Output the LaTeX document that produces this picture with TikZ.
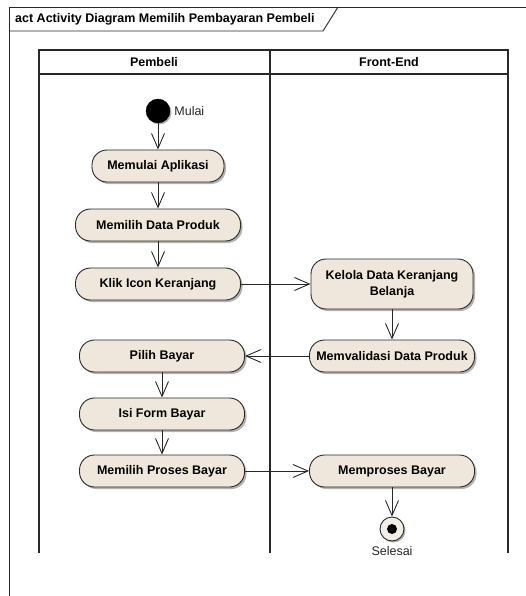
\documentclass[tikz,border=0pt]{standalone}
\usepackage{fontspec}
\setmainfont{Liberation Sans}
\usepackage{tikz}
\usetikzlibrary{positioning, arrows.meta, shadows}

\definecolor{ActFill}{RGB}{239,231,219}
\definecolor{EndFill}{RGB}{242,238,228}
\definecolor{LineGray}{RGB}{40,40,40}

\begin{document}
\begin{tikzpicture}[x=1pt,y=-1pt]
  \tikzset{ActionStyle/.style = {
    shape          = rectangle,
    rounded corners = 15pt,
    draw           = LineGray,
    fill           = ActFill,
    line width     = 0.9pt,
    text           = black,
    font           = \fontsize{12.5}{16}\selectfont\bfseries,
    align          = center,
    inner sep      = 2pt,
    minimum width  = 165pt,
    minimum height = 32pt,
    drop shadow    = {shadow xshift=2pt, shadow yshift=-2pt, opacity=0.3, fill=black}
    }
  }
  \tikzset{StartStyle/.style = {
    shape         = circle,
    fill          = black,
    draw          = black,
    minimum size  = 24pt,
    inner sep     = 0pt,
    drop shadow   = {shadow xshift=1.5pt, shadow yshift=-1.5pt, opacity=0.3, fill=black}
    }
  }
  \tikzset{EndStyle/.style = {
    shape         = circle,
    fill          = EndFill,
    draw          = LineGray,
    line width    = 0.9pt,
    minimum size  = 24pt,
    inner sep     = 0pt,
    path picture  = {\fill[black] (path picture bounding box.center) circle (5pt);},
    drop shadow   = {shadow xshift=1.5pt, shadow yshift=-1.5pt, opacity=0.3, fill=black}
    }
  }
  \tikzset{EdgeStyle/.style = {
    draw          = LineGray,
    line width    = 0.9pt,
    -{Straight Barb[length=15pt, width=13pt, line width=0.9pt]}
    }
  }
  \tikzset{LaneStyle/.style = {
    draw          = LineGray,
    line width    = 1.2pt
    }
  }
  \tikzset{FrameStyle/.style = {
    draw          = LineGray,
    line width    = 0.9pt
    }
  }
  \tikzset{LabelStyle/.style = {
    text          = black!85,
    font          = \fontsize{12.5}{15}\selectfont,
    inner sep     = 1pt
    }
  }
  \tikzset{HeadStyle/.style = {
    text          = black,
    font          = \fontsize{12.5}{15}\selectfont\bfseries,
    inner sep     = 0pt
    }
  }

	\useasboundingbox (0,0) rectangle (526,596);

	% frame and title tab
	\draw[FrameStyle] (526,7) -- (9,7) -- (9,596);
	\draw[FrameStyle] (9,31) -- (323,31) -- (338,7);
	\node[HeadStyle, anchor=west](T0) at (15,19) {act Activity Diagram Memilih Pembayaran Pembeli};

	% swimlanes
	\draw[LaneStyle] (39,553) -- (39,50) -- (508,50) -- (508,553);
	\draw[LaneStyle] (39,74) -- (508,74);
	\draw[LaneStyle] (270,50) -- (270,553);
	\node[HeadStyle](H1) at (154,62) {Pembeli};
	\node[HeadStyle](H2) at (389,62) {Front-End};

	% Pembeli
	\node[StartStyle](S0) at (158,111) {};
	\node[LabelStyle, right=3pt of S0](L0) {Mulai};
	\node[ActionStyle, minimum width=132pt](A1) at (158,166) {Memulai Aplikasi};
	\node[ActionStyle](A2) at (158,225) {Memilih Data Produk};
	\node[ActionStyle](A3) at (158,284) {Klik Icon Keranjang};
	\node[ActionStyle](A4) at (162,356) {Pilih Bayar};
	\node[ActionStyle](A5) at (162,414) {Isi Form Bayar};
	\node[ActionStyle](A6) at (162,471) {Memilih Proses Bayar};

	% Front-End
	\node[ActionStyle, minimum width=162pt, minimum height=50pt](B1) at (392,284) {Kelola Data Keranjang\\Belanja};
	\node[ActionStyle](B2) at (392,356) {Memvalidasi Data Produk};
	\node[ActionStyle](B3) at (392,471) {Memproses Bayar};
	\node[EndStyle](E0) at (392,529) {};
	\node[LabelStyle, below=4pt of E0](L1) {Selesai};

	\draw[EdgeStyle](S0) to (A1);
	\draw[EdgeStyle](A1) to (A2);
	\draw[EdgeStyle](A2) to (A3);
	\draw[EdgeStyle](A3) to (B1);
	\draw[EdgeStyle](B1) to (B2);
	\draw[EdgeStyle](B2) to (A4);
	\draw[EdgeStyle](A4) to (A5);
	\draw[EdgeStyle](A5) to (A6);
	\draw[EdgeStyle](A6) to (B3);
	\draw[EdgeStyle](B3) to (E0);

  \end{tikzpicture}
\end{document}
